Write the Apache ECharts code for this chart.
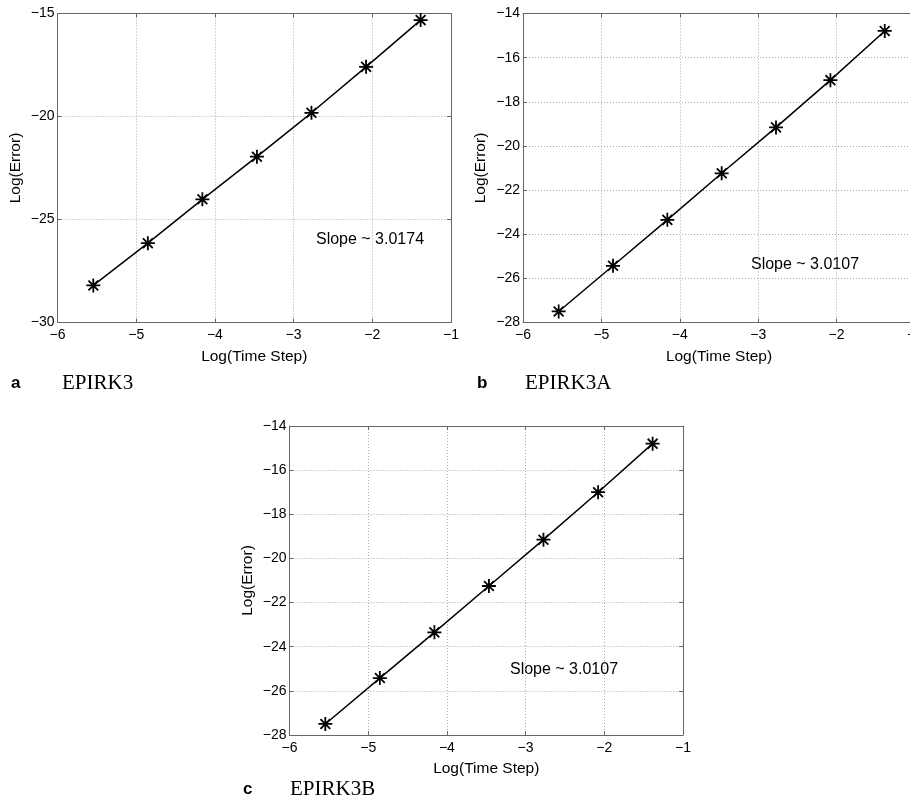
<!DOCTYPE html>
<html>
<head>
<meta charset="utf-8">
<script src="https://cdn.jsdelivr.net/npm/echarts@6/dist/echarts.min.js"></script>
<style>html,body{margin:0;padding:0;background:#fff;}#c{width:910px;height:803px;}</style>
</head>
<body>
<div id="c"></div>
<script>
// Data
var logStep = [-5.545, -4.852, -4.159, -3.466, -2.773, -2.079, -1.386];
var errA = [-28.2, -26.15, -24.02, -21.95, -19.82, -17.59, -15.32];
var errB = [-27.5, -25.43, -23.35, -21.24, -19.16, -17.02, -14.79];
var errC = [-27.5, -25.42, -23.35, -21.25, -19.15, -17.0, -14.8];
var panels = [
  {cap: 'a', name: 'EPIRK3', slope: 'Slope ~ 3.0174', data: errA, ymin: -30, ymax: -15, yint: 5},
  {cap: 'b', name: 'EPIRK3A', slope: 'Slope ~ 3.0107', data: errB, ymin: -28, ymax: -14, yint: 2},
  {cap: 'c', name: 'EPIRK3B', slope: 'Slope ~ 3.0107', data: errC, ymin: -28, ymax: -14, yint: 2}
];
var xName = 'Log(Time Step)';
var yName = 'Log(Error)';

// Layout (pixels)
var grids = [
  {left: 57.5, top: 13.5, width: 393.5, height: 309},
  {left: 523, top: 13.5, width: 392, height: 309},
  {left: 289.5, top: 426, width: 393.5, height: 309}
];
var slopePos = [[370, 240], [805, 265], [564, 670]];
var capPos = [[11, 383, 62], [477, 383, 525], [243, 789, 290]];

var fmt = function (v) { return String(v).replace('-', '\u2212'); };
var axisCol = '#666';
var ast = 'path://M0,-10L0,10M-10,0L10,0M-7,-7L7,7M-7,7L7,-7';

var option = {grid: [], xAxis: [], yAxis: [], series: [], graphic: [], animation: false, backgroundColor: '#fff'};
panels.forEach(function (p, i) {
  var g = grids[i];
  option.grid.push({left: g.left, top: g.top, width: g.width, height: g.height, containLabel: false, outerBoundsMode: 'none'});
  var baseX = {
    type: 'value', gridIndex: i, min: -6, max: -1, interval: 1,
    axisLine: {show: true, onZero: false, lineStyle: {color: axisCol, width: 1}},
    axisTick: {show: true, inside: true, length: 4, lineStyle: {color: axisCol}}
  };
  var baseY = {
    type: 'value', gridIndex: i, min: p.ymin, max: p.ymax, interval: p.yint,
    axisLine: {show: true, onZero: false, lineStyle: {color: axisCol, width: 1}},
    axisTick: {show: true, inside: true, length: 4, lineStyle: {color: axisCol}}
  };
  option.xAxis.push(Object.assign({}, baseX, {
    position: 'bottom', name: xName, nameLocation: 'middle', nameGap: 26,
    nameTextStyle: {fontFamily: 'Liberation Sans', fontSize: 15.5, color: '#000'},
    axisLabel: {formatter: fmt, fontFamily: 'Liberation Sans', fontSize: 14, color: '#000', margin: 6, showMinLabel: true, showMaxLabel: true},
    splitLine: {show: true, lineStyle: {color: '#aaa', type: [1, 2], width: 1}}
  }));
  option.xAxis.push(Object.assign({}, baseX, {
    position: 'top', axisLabel: {show: false}, splitLine: {show: false}
  }));
  option.yAxis.push(Object.assign({}, baseY, {
    position: 'left', name: yName, nameLocation: 'middle', nameGap: 34,
    nameTextStyle: {fontFamily: 'Liberation Sans', fontSize: 15.5, color: '#000'},
    axisLabel: {formatter: fmt, fontFamily: 'Liberation Sans', fontSize: 14, color: '#000', margin: 3, showMinLabel: true, showMaxLabel: true},
    splitLine: {show: true, lineStyle: {color: '#aaa', type: [1, 2], width: 1}}
  }));
  option.yAxis.push(Object.assign({}, baseY, {
    position: 'right', axisLabel: {show: false}, splitLine: {show: false}
  }));
  option.series.push({
    type: 'line', xAxisIndex: 2 * i, yAxisIndex: 2 * i,
    data: logStep.map(function (x, k) { return [x, p.data[k]]; }),
    lineStyle: {color: '#000', width: 1.5},
    symbol: ast, symbolSize: 14, showSymbol: true,
    itemStyle: {color: 'rgba(0,0,0,0)', borderColor: '#000', borderWidth: 1.8},
    silent: true
  });
  option.graphic.push({
    type: 'text', x: slopePos[i][0], y: slopePos[i][1],
    style: {text: p.slope, fontFamily: 'Liberation Sans', fontSize: 16, fill: '#000', align: 'center', verticalAlign: 'middle'}
  });
  option.graphic.push({
    type: 'text', x: capPos[i][0], y: capPos[i][1],
    style: {text: p.cap, fontFamily: 'Liberation Sans', fontWeight: 'bold', fontSize: 17, fill: '#000', align: 'left', verticalAlign: 'middle'}
  });
  option.graphic.push({
    type: 'text', x: capPos[i][2], y: capPos[i][1],
    style: {text: p.name, fontFamily: 'Liberation Serif', fontSize: 21, fill: '#000', align: 'left', verticalAlign: 'middle'}
  });
});

var chart = echarts.init(document.getElementById('c'), null, {renderer: 'canvas'});
chart.setOption(option);
</script>
</body>
</html>
